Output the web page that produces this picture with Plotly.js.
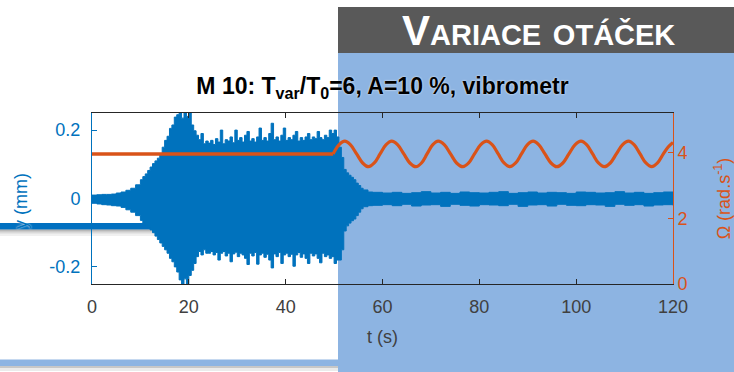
<!DOCTYPE html>
<html>
<head>
<meta charset="utf-8">
<script src="https://cdn.plot.ly/plotly-3.0.1.min.js"></script>
<style>html,body{margin:0;padding:0;background:#fff;}#chart{width:734px;height:372px;}</style>
</head>
<body>
<div id="chart"></div>
<script>
// ---- data ----
const tEnv = [0,1,2,3,4,5,6,7,8,9,10,
  10.5,11,11.5,12,12.5,13,13.5,14,14.5,15,15.5,16,16.5,17,17.5,18,18.5,19,19.5,20,20.5,21,21.5,22,22.5,23,23.5,
  24,24.5,25,25.5,26,26.5,27,27.5,28,28.5,
  29,29.5,30,30.5,31,31.5,32,32.5,33,33.5,
  34,34.5,35,35.5,36,36.5,37,37.5,38,38.5,
  39,39.5,40,40.5,41,41.5,42,42.5,43,43.5,
  44,44.5,45,45.5,46,46.5,47,47.5,48,48.5,
  49,49.5,50,
  50.5,51,51.5,52,52.5,53,53.5,54,54.5,55,55.5,56,57,58,
  60,62,64,66,68,70,72,74,76,78,80,82,84,86,88,90,92,94,96,98,100,102,104,106,108,110,112,114,116,118,120];

const yUpper = [0.010,0.011,0.012,0.012,0.013,0.016,0.019,0.024,0.030,0.040,0.055,
  0.064,0.072,0.082,0.092,0.102,0.110,0.118,0.130,0.150,0.170,0.182,0.205,0.215,0.238,0.245,0.250,0.235,0.250,0.240,0.250,0.215,0.198,0.185,0.172,0.190,0.160,0.168,
  0.162,0.170,0.158,0.175,0.165,0.200,0.160,0.172,0.168,0.180,
  0.163,0.200,0.170,0.178,0.165,0.185,0.196,0.168,0.175,0.165,
  0.180,0.206,0.170,0.178,0.168,0.190,0.220,0.172,0.180,0.168,
  0.185,0.206,0.170,0.178,0.172,0.185,0.196,0.168,0.178,0.170,
  0.180,0.190,0.172,0.180,0.175,0.196,0.178,0.172,0.185,0.178,
  0.200,0.190,0.200,
  0.180,0.150,0.120,0.085,0.075,0.068,0.062,0.055,0.045,0.038,0.030,0.025,0.019,0.018,
  0.016,0.018,0.015,0.017,0.020,0.016,0.018,0.015,0.019,0.017,0.016,0.018,0.020,0.015,0.017,0.019,0.016,0.018,0.017,0.015,0.019,0.018,0.016,0.017,0.020,0.016,0.018,0.015,0.017,0.019,0.016];

const yLower = [-0.014,-0.016,-0.018,-0.019,-0.021,-0.022,-0.026,-0.033,-0.040,-0.050,-0.064,
  -0.072,-0.078,-0.085,-0.092,-0.100,-0.110,-0.120,-0.130,-0.140,-0.150,-0.160,-0.175,-0.185,-0.200,-0.215,-0.238,-0.250,-0.235,-0.250,-0.225,-0.210,-0.190,-0.170,-0.155,-0.165,-0.150,-0.160,
  -0.160,-0.155,-0.165,-0.158,-0.180,-0.160,-0.155,-0.168,-0.160,-0.185,
  -0.162,-0.157,-0.170,-0.160,-0.165,-0.175,-0.193,-0.160,-0.168,-0.158,
  -0.192,-0.165,-0.160,-0.172,-0.163,-0.180,-0.203,-0.162,-0.170,-0.158,
  -0.190,-0.165,-0.160,-0.170,-0.163,-0.198,-0.165,-0.158,-0.172,-0.162,
  -0.175,-0.190,-0.160,-0.168,-0.162,-0.175,-0.188,-0.160,-0.170,-0.165,
  -0.175,-0.170,-0.190,
  -0.180,-0.180,-0.150,-0.095,-0.080,-0.072,-0.065,-0.060,-0.050,-0.040,-0.030,-0.024,-0.021,-0.020,
  -0.018,-0.021,-0.017,-0.022,-0.019,-0.018,-0.023,-0.017,-0.020,-0.022,-0.018,-0.019,-0.021,-0.017,-0.023,-0.019,-0.018,-0.022,-0.017,-0.020,-0.021,-0.018,-0.019,-0.023,-0.017,-0.020,-0.018,-0.022,-0.019,-0.018,-0.020];

const tOmegaConst = [0, 49.8];
const omegaConst = [3.97, 3.97];
const tOmegaVar = [49.8,51.0,52.2,53.4,54.65,55.9,57.1,58.3,
  59.5,60.7,61.9,63.15,64.4,65.65,66.9,68.05,
  69.2,70.35,71.5,72.8,74.05,75.3,76.6,77.8,
  79.0,80.25,81.5,82.7,83.9,85.1,86.3,87.5,
  88.7,89.9,91.1,92.3,93.55,94.8,96.0,97.25,
  98.5,99.75,101.0,102.2,103.4,104.6,105.8,107.05,
  108.3,109.55,110.8,112.0,113.2,114.4,115.6,116.8,
  118.0,119.0,120];
const omegaVar = [3.97,4.246,4.36,4.246,3.97,3.694,3.58,3.694,
  3.97,4.246,4.36,4.246,3.97,3.694,3.58,3.694,
  3.97,4.246,4.36,4.246,3.97,3.694,3.58,3.694,
  3.97,4.246,4.36,4.246,3.97,3.694,3.58,3.694,
  3.97,4.246,4.36,4.246,3.97,3.694,3.58,3.694,
  3.97,4.246,4.36,4.246,3.97,3.694,3.58,3.694,
  3.97,4.246,4.36,4.246,3.97,3.694,3.58,3.694,
  3.97,4.18,4.32];

const xTicks = [0,20,40,60,80,100,120];
const yTicks = [-0.2,0,0.2];
const yTickText = ['-0.2','0','0.2'];
const y2Ticks = [0,2,4];

const chartTitle = 'M 10: T<sub>var</sub>/T<sub>0</sub>=6, A=10 %, vibrometr';
const xTitle = 't (s)';
const yTitle = 'y (mm)';
const y2Title = 'Ω (rad.s<sup>-1</sup>)';
const headerText = 'Variace otáček';

// ---- drawing ----
const BLUE = '#0072BD', ORANGE = '#D95319', GRAY = '#404040';
const FONT = 'Liberation Sans, Arial, sans-serif';
const W = 734, H = 372, L = 92, R = 673, T = 113, B = 284;
const px = x => (x - L) / (R - L);
const py = y => (B - y) / (B - T);

const traces = [
  {x: tEnv, y: yUpper, type: 'scatter', mode: 'lines', line: {color: BLUE, width: 1, shape: 'hv'}, hoverinfo: 'skip', showlegend: false},
  {x: tEnv, y: yLower, type: 'scatter', mode: 'lines', fill: 'tonexty', fillcolor: BLUE, line: {color: BLUE, width: 1, shape: 'hv'}, hoverinfo: 'skip', showlegend: false},
  {x: tOmegaConst, y: omegaConst, yaxis: 'y2', type: 'scatter', mode: 'lines', line: {color: ORANGE, width: 3.5}, showlegend: false},
  {x: tOmegaVar, y: omegaVar, yaxis: 'y2', type: 'scatter', mode: 'lines', line: {color: ORANGE, width: 3.2, shape: 'spline', smoothing: 1}, showlegend: false}
];

function rect(x0, x1, y0, y1, color) {
  return {type: 'rect', xref: 'paper', yref: 'paper', x0: px(x0), x1: px(x1), y0: py(y1), y1: py(y0), fillcolor: color, line: {width: 0}, layer: 'below'};
}

const shapes = [
  rect(-5, 338, 223, 229.5, '#0070C0'),
  rect(-5, 338, 229.5, 231.5, 'rgba(0,0,0,0.28)'),
  rect(-5, 338, 231.5, 233.5, 'rgba(0,0,0,0.15)'),
  rect(-5, 338, 233.5, 236, 'rgba(0,0,0,0.06)'),
  rect(-5, 338, 359.5, 366, '#8DB4E2'),
  rect(-5, 338, 366, 368, 'rgba(0,0,0,0.22)'),
  rect(-5, 338, 368, 371, 'rgba(0,0,0,0.08)'),
  rect(338, 740, 53, 380, '#8DB4E2'),
  rect(338, 740, 7, 53, '#595959')
];

const layout = {
  width: W, height: H,
  margin: {l: L, r: W - R, t: T, b: H - B, pad: 0},
  paper_bgcolor: '#ffffff',
  plot_bgcolor: 'rgba(0,0,0,0)',
  showlegend: false,
  font: {family: FONT, size: 18, color: GRAY},
  title: {text: chartTitle, font: {family: FONT, size: 23, color: '#000000', weight: 'bold', shadow: '0px 0px 2px #ffffff'},
          x: 0.5, xref: 'paper', xanchor: 'center', y: 1 - 86 / H, yref: 'container', yanchor: 'middle'},
  xaxis: {range: [0, 120], tickvals: xTicks, ticks: 'inside', ticklen: 5, tickwidth: 1, tickcolor: '#262626',
          showline: true, linecolor: '#262626', linewidth: 1, mirror: 'ticks', showgrid: false, zeroline: false,
          ticklabelstandoff: 6,
          tickfont: {family: FONT, size: 18, color: GRAY},
          title: {text: xTitle, font: {family: FONT, size: 18, color: GRAY}, standoff: 14}},
  yaxis: {range: [-0.25, 0.25], tickvals: yTicks, ticktext: yTickText, ticks: 'inside', ticklen: 5, tickcolor: BLUE,
          showline: true, linecolor: BLUE, linewidth: 1, showgrid: false, zeroline: false,
          ticklabelstandoff: 7,
          tickfont: {family: FONT, size: 18, color: BLUE}},
  yaxis2: {range: [0, 5.22], tickvals: y2Ticks, overlaying: 'y', side: 'right', ticks: 'inside', ticklen: 5, tickcolor: ORANGE,
           showline: true, linecolor: ORANGE, linewidth: 1, showgrid: false, zeroline: false,
           tickfont: {family: FONT, size: 18, color: ORANGE},
           title: {text: y2Title, font: {family: FONT, size: 18, color: ORANGE}, standoff: 30}},
  shapes: shapes,
  annotations: [
    {text: yTitle, textangle: -90, xref: 'paper', yref: 'paper', x: px(21), y: py(201), xanchor: 'center', yanchor: 'middle',
     showarrow: false, font: {family: FONT, size: 18, color: BLUE, shadow: '0px 0px 2px #ffffff'}},
    {text: headerText, xref: 'paper', yref: 'paper', x: px(538), y: py(30.5), xanchor: 'center', yanchor: 'middle',
     showarrow: false, font: {family: FONT, size: 42, color: '#ffffff', weight: 'bold', variant: 'small-caps'}}
  ]
};

Plotly.newPlot('chart', traces, layout, {staticPlot: true, displayModeBar: false});
</script>
</body>
</html>
